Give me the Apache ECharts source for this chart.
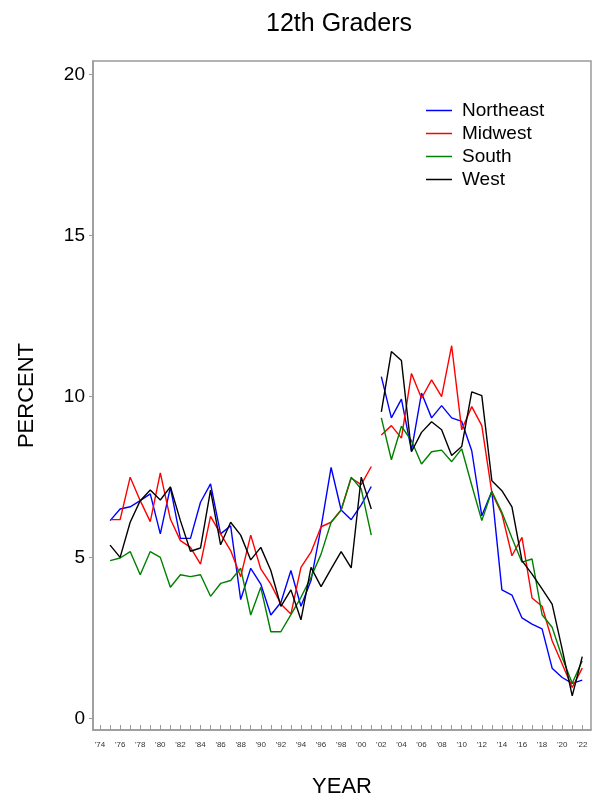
<!DOCTYPE html>
<html>
<head>
<meta charset="utf-8">
<script src="https://cdn.jsdelivr.net/npm/echarts@6/dist/echarts.min.js"></script>
<style>html,body{margin:0;padding:0;background:#fff}#c{width:592px;height:799px}</style>
</head>
<body>
<div id="c"></div>
<script>
const years1 = [1975,1976,1977,1978,1979,1980,1981,1982,1983,1984,1985,1986,1987,1988,1989,1990,1991,1992,1993,1994,1995,1996,1997,1998,1999,2000,2001];
const years2 = [2002,2003,2004,2005,2006,2007,2008,2009,2010,2011,2012,2013,2014,2015,2016,2017,2018,2019,2020,2021,2022];

const northeast1 = [6.15,6.51,6.58,6.77,6.98,5.74,7.18,5.60,5.60,6.72,7.29,5.74,5.99,3.70,4.67,4.18,3.22,3.61,4.60,3.49,4.29,5.94,7.80,6.48,6.18,6.64,7.21];
const northeast2 = [10.62,9.34,9.92,8.32,10.11,9.34,9.72,9.34,9.23,8.32,6.30,7.06,4.00,3.84,3.13,2.94,2.79,1.57,1.28,1.10,1.20];

const midwest1 = [6.18,6.18,7.50,6.77,6.12,7.63,6.20,5.53,5.32,4.80,6.28,5.74,5.22,4.41,5.70,4.65,4.18,3.56,3.25,4.70,5.17,5.96,6.10,6.48,7.47,7.27,7.83];
const midwest2 = [8.81,9.10,8.71,10.72,9.95,10.52,10.00,11.58,8.97,9.69,9.10,7.02,6.36,5.06,5.63,3.75,3.49,2.42,1.70,0.97,1.57];

const south1 = [4.91,4.99,5.19,4.47,5.19,5.01,4.08,4.47,4.41,4.47,3.80,4.20,4.29,4.67,3.22,4.08,2.70,2.70,3.23,3.77,4.39,5.11,6.10,6.48,7.50,7.13,5.70];
const south2 = [9.34,8.04,9.08,8.63,7.91,8.29,8.34,7.98,8.38,7.25,6.15,7.06,6.41,5.61,4.86,4.96,3.23,2.84,1.90,1.10,1.80];

const west1 = [5.39,5.01,6.10,6.77,7.10,6.79,7.20,6.15,5.20,5.30,7.10,5.40,6.10,5.70,4.93,5.32,4.60,3.49,4.00,3.07,4.70,4.10,4.65,5.19,4.68,7.50,6.51];
const west2 = [9.53,11.40,11.12,8.29,8.89,9.22,8.97,8.17,8.45,10.15,10.03,7.39,7.08,6.58,4.91,4.49,4.03,3.56,2.16,0.71,1.93];

const tickYears = [1974,1975,1976,1977,1978,1979,1980,1981,1982,1983,1984,1985,1986,1987,1988,1989,1990,1991,1992,1993,1994,1995,1996,1997,1998,1999,2000,2001,2002,2003,2004,2005,2006,2007,2008,2009,2010,2011,2012,2013,2014,2015,2016,2017,2018,2019,2020,2021,2022];
const labelYears = [1974,1976,1978,1980,1982,1984,1986,1988,1990,1992,1994,1996,1998,2000,2002,2004,2006,2008,2010,2012,2014,2016,2018,2020,2022];
const yTicks = [0,5,10,15,20];

const regions = ['Northeast','Midwest','South','West'];
const colors = ['#0000ff','#ff0000','#008000','#000000'];
const parts = [[northeast1,northeast2],[midwest1,midwest2],[south1,south2],[west1,west2]];

const FONT = 'Liberation Sans, Arial, sans-serif';
const series = [];
regions.forEach((name,i)=>{
  [[years1,parts[i][0]],[years2,parts[i][1]]].forEach(([ys,vs])=>{
    series.push({
      name: name, type:'line', symbol:'none', showSymbol:false, animation:false,
      color: colors[i],
      lineStyle:{color:colors[i], width:1.4},
      data: ys.map((y,k)=>[y,vs[k]])
    });
  });
});

const chart = echarts.init(document.getElementById('c'), null, {renderer:'canvas'});
chart.setOption({
  backgroundColor:'#fff',
  animation:false,
  title:{text:'12th Graders', left:334, top:7, textAlign:'center',
    textStyle:{fontFamily:FONT, fontSize:25, fontWeight:'normal', color:'#000'}},
  legend:{data:regions, orient:'vertical', left:421, top:96, icon:'rect', itemWidth:26, itemHeight:1.5, itemGap:4,
    textStyle:{fontFamily:FONT, fontSize:19, color:'#000', padding:[0,0,0,5]}},
  grid:{left:93, right:1, top:61, bottom:69, show:true, borderColor:'#9a9a9a', borderWidth:1.5,
    containLabel:false, outerBoundsMode:'none'},
  xAxis:{type:'value', min:1973.3, max:2022.87,
    name:'YEAR', nameLocation:'middle', nameGap:46,
    nameTextStyle:{fontFamily:FONT, fontSize:22, color:'#000'},
    axisLine:{show:true, onZero:false, lineStyle:{color:'#9a9a9a', width:1.5}},
    axisTick:{show:true, inside:true, length:5, customValues:tickYears, lineStyle:{color:'#9a9a9a'}},
    axisLabel:{customValues:labelYears, fontFamily:FONT, fontSize:8, color:'#333', margin:11,
      formatter:v=>"'"+String(v).slice(2)},
    splitLine:{show:false}},
  yAxis:{type:'value', min:-0.35, max:20.42,
    name:'PERCENT', nameLocation:'middle', nameGap:55, nameRotate:90,
    nameTextStyle:{fontFamily:FONT, fontSize:22, color:'#000'},
    axisLine:{show:true, onZero:false, lineStyle:{color:'#9a9a9a', width:1.5}},
    axisTick:{show:true, length:4, customValues:yTicks, lineStyle:{color:'#9a9a9a'}},
    axisLabel:{customValues:yTicks, fontFamily:FONT, fontSize:19, color:'#000', margin:8},
    splitLine:{show:false}},
  series: series
});
</script>
</body>
</html>
